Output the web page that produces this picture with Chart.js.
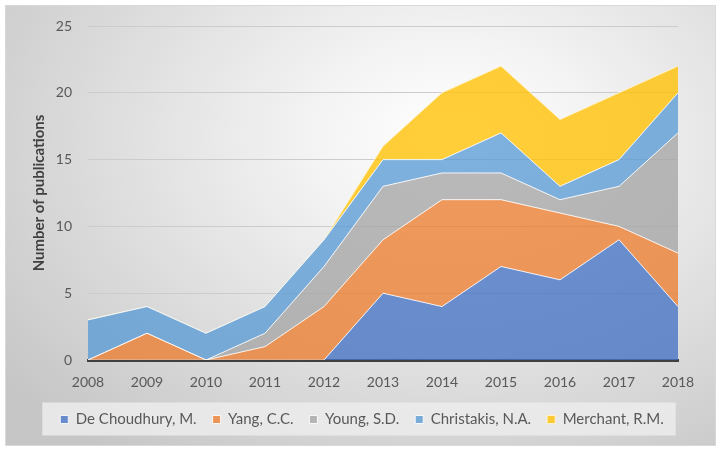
<!DOCTYPE html>
<html>
<head>
<meta charset="utf-8">
<script src="https://cdn.jsdelivr.net/npm/chart.js@4.4.0/dist/chart.umd.min.js"></script>
<style>
    html, body { margin: 0; padding: 0; background: #ffffff; }
    #wrap { position: relative; width: 722px; height: 451px; }
    #frame {
        position: absolute; left: 5px; top: 5px; width: 709px; height: 439px;
        border: 1px solid #d9d9d9;
        background: radial-gradient(ellipse 80% 90% at 63% 30%, #ffffff 0%, #f5f5f5 22%, #c6c6c6 100%);
    }
    #pubChart { position: absolute; left: 0; top: 0; }
</style>
</head>
<body>
<div id="wrap">
    <div id="frame"></div>
    <canvas id="pubChart" width="722" height="451"></canvas>
</div>
<script>
const years = ["2008", "2009", "2010", "2011", "2012", "2013", "2014", "2015", "2016", "2017", "2018"];
const deChoudhury = [0, 0, 0, 0, 0, 5, 4, 7, 6, 9, 4];
const yang = [0, 2, 0, 1, 4, 4, 8, 5, 5, 1, 4];
const young = [0, 0, 0, 1, 3, 4, 2, 2, 1, 3, 9];
const christakis = [3, 2, 2, 2, 2, 2, 1, 3, 1, 2, 3];
const merchant = [0, 0, 0, 0, 0, 1, 5, 5, 5, 5, 2];
const yTicks = [0, 5, 10, 15, 20, 25];

const textColor = "#595959";
const font = "Lato";

// grey panel behind the legend items, like the Excel legend fill
const legendPanel = {
    id: "legendPanel",
    afterLayout(chart) {
        // excel centres the legend on the whole frame, not on the padded box
        chart.legend.left += 23;
        chart.legend.right += 23;
    },
    beforeDraw(chart) {
        const lg = chart.legend;
        const pad = lg.options.labels.padding;
        const start = (lg.left + pad + lg.right - lg.lineWidths[0]) / 2;
        const end = start + lg.lineWidths[0] - pad;
        const mid = lg.top + pad + 7.5;
        const ctx = chart.ctx;
        ctx.save();
        ctx.fillStyle = "rgba(236, 236, 236, 0.85)";
        ctx.fillRect(start - 18, mid - 17, end - start + 30, 33);
        ctx.restore();
    }
};

function series(label, data, color, border, fill) {
    return {
        label: label,
        data: data,
        fill: fill,
        backgroundColor: color,
        borderColor: border,
        borderWidth: 1,
        pointRadius: 0,
        tension: 0
    };
}

new Chart(document.getElementById("pubChart"), {
    type: "line",
    data: {
        labels: years,
        datasets: [
            series("De Choudhury, M.", deChoudhury, "rgba(68, 114, 196, 0.78)", "rgba(255, 255, 255, 0.85)", "origin"),
            series("Yang, C.C.", yang, "rgba(237, 125, 49, 0.78)", "rgba(255, 255, 255, 0.85)", "-1"),
            series("Young, S.D.", young, "rgba(165, 165, 165, 0.78)", "rgba(255, 255, 255, 0.85)", "-1"),
            series("Christakis, N.A.", christakis, "rgba(91, 155, 213, 0.78)", "rgba(255, 255, 255, 0.85)", "-1"),
            series("Merchant, R.M.", merchant, "rgba(255, 192, 0, 0.78)", "rgba(255, 242, 200, 1)", "-1")
        ]
    },
    options: {
        responsive: false,
        animation: false,
        layout: { padding: { left: 0, right: 44, top: 26, bottom: 14 } },
        scales: {
            x: {
                z: 1,
                offset: false,
                grid: { display: false, drawTicks: false },
                border: { display: true, color: "#404040", width: 3 },
                ticks: { color: textColor, font: { family: font, size: 14 }, padding: 14, maxRotation: 0 },
                afterFit: (scale) => { scale.height = 36; }
            },
            y: {
                stacked: true,
                min: 0,
                max: 25,
                afterBuildTicks: (scale) => { scale.ticks = yTicks.map(v => ({ value: v })); },
                grid: { color: "#cccccc", lineWidth: 1, drawTicks: false },
                border: { display: false },
                ticks: { color: textColor, font: { family: font, size: 14 }, padding: 16 },
                title: {
                    display: true,
                    text: "Number of publications",
                    color: "#404040",
                    font: { family: font, size: 15, weight: "bold" },
                    padding: { top: 30, bottom: 0 }
                },
                afterFit: (scale) => { scale.width = 88; }
            }
        },
        plugins: {
            legend: {
                position: "bottom",
                labels: {
                    color: textColor,
                    font: { family: font, size: 15 },
                    boxWidth: 8,
                    boxHeight: 8,
                    padding: 16
                }
            },
            tooltip: { enabled: false }
        }
    },
    plugins: [legendPanel]
});
</script>
</body>
</html>
